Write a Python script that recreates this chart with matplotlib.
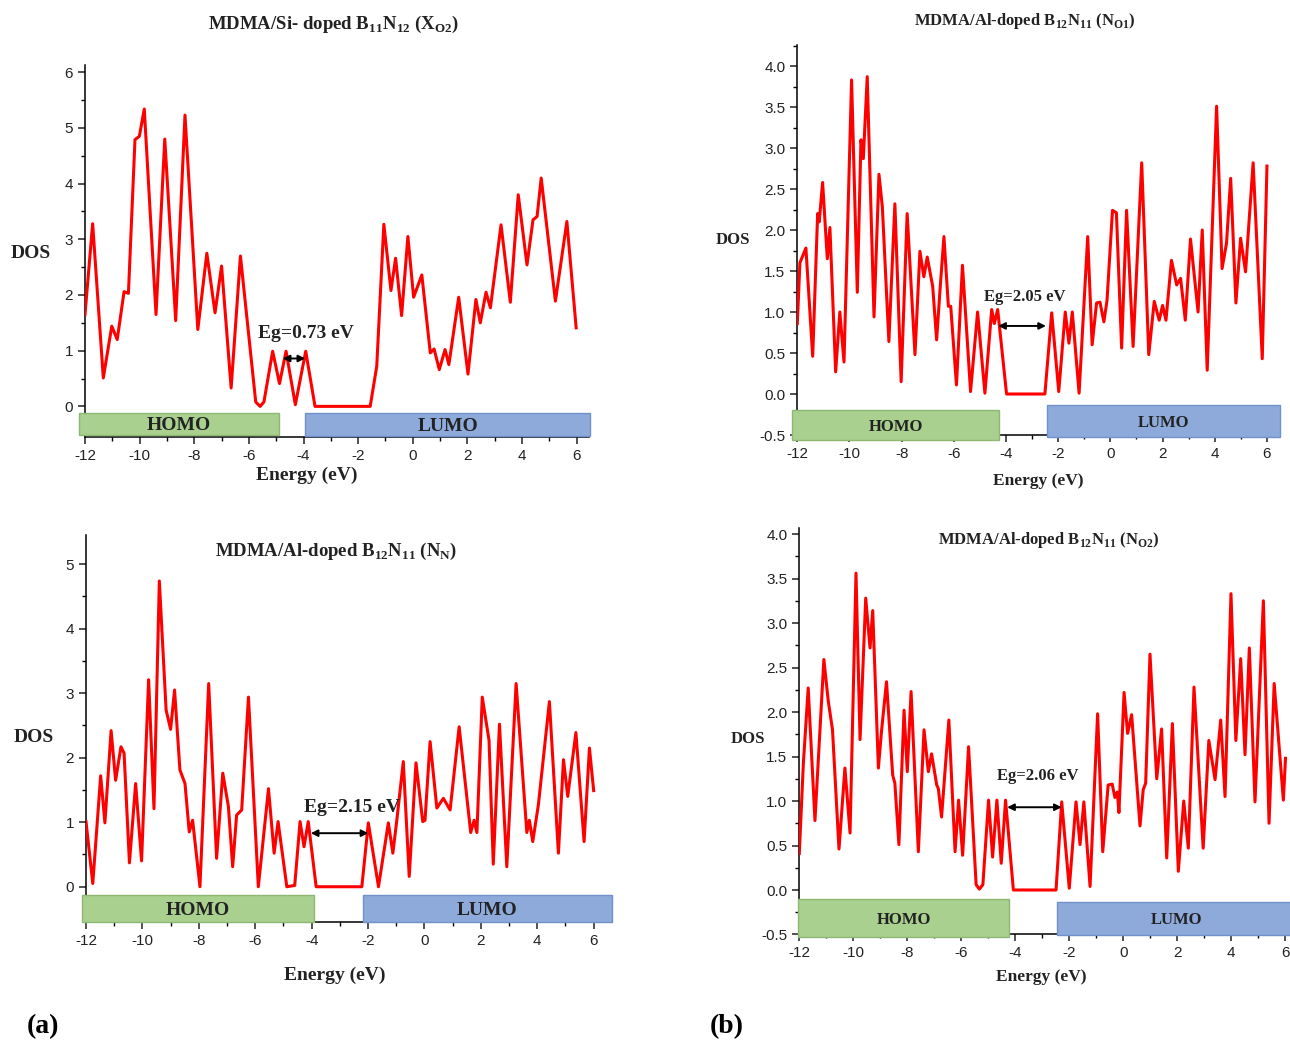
import matplotlib
matplotlib.use("Agg")
import matplotlib.pyplot as plt
from matplotlib.patches import Rectangle
from matplotlib.ticker import MultipleLocator, FormatStrFormatter

# ---- data (energy in eV, DOS) ----
e_xo2 = [-12.0, -11.72, -11.33, -11.02, -10.82, -10.57, -10.41, -10.17, -10.01, -9.83,
         -9.40, -9.08, -8.68, -8.34, -7.87, -7.54, -7.24, -7.00, -6.65, -6.31,
         -5.75, -5.59, -5.45, -5.13, -4.88, -4.64, -4.30, -3.92, -3.58, -1.56,
         -1.32, -1.06, -0.80, -0.63, -0.41, -0.18, 0.03, 0.33, 0.64, 0.78,
         0.97, 1.18, 1.32, 1.68, 2.02, 2.31, 2.47, 2.68, 2.84, 3.23,
         3.57, 3.86, 4.18, 4.40, 4.55, 4.70, 5.22, 5.64, 5.98]
dos_xo2 = [1.65, 3.28, 0.51, 1.44, 1.20, 2.06, 2.03, 4.79, 4.85, 5.34,
           1.65, 4.80, 1.54, 5.23, 1.38, 2.75, 1.68, 2.52, 0.33, 2.70,
           0.08, 0.0, 0.08, 0.99, 0.41, 0.99, 0.03, 0.99, 0.0, 0.0,
           0.72, 3.27, 2.08, 2.66, 1.63, 3.05, 1.96, 2.36, 0.96, 1.03,
           0.66, 1.02, 0.75, 1.96, 0.58, 1.92, 1.50, 2.05, 1.77, 3.26,
           1.87, 3.80, 2.54, 3.35, 3.41, 4.10, 1.89, 3.32, 1.41]

e_nn = [-12.0, -11.76, -11.48, -11.33, -11.11, -10.95, -10.76, -10.65, -10.46, -10.24,
        -10.03, -9.78, -9.59, -9.40, -9.16, -9.00, -8.86, -8.67, -8.49, -8.34,
        -8.22, -7.96, -7.65, -7.37, -7.15, -6.95, -6.80, -6.66, -6.48, -6.24,
        -5.89, -5.53, -5.33, -5.19, -4.88, -4.60, -4.41, -4.27, -4.12, -3.84,
        -2.22, -1.99, -1.63, -1.28, -1.12, -0.98, -0.75, -0.54, -0.30, -0.06,
        0.02, 0.20, 0.44, 0.67, 0.91, 1.23, 1.64, 1.76, 1.86, 2.05,
        2.29, 2.44, 2.66, 2.92, 3.25, 3.63, 3.72, 3.84, 4.04, 4.43,
        4.75, 4.93, 5.08, 5.37, 5.66, 5.85, 6.00]
dos_nn = [1.01, 0.05, 1.72, 0.99, 2.42, 1.65, 2.17, 2.07, 0.37, 1.60,
          0.40, 3.21, 1.21, 4.74, 2.74, 2.44, 3.05, 1.81, 1.60, 0.85,
          1.03, 0.0, 3.15, 0.44, 1.76, 1.24, 0.31, 1.11, 1.19, 2.94,
          0.0, 1.52, 0.52, 1.01, 0.0, 0.02, 1.01, 0.62, 1.01, 0.0,
          0.0, 0.99, 0.0, 0.99, 0.52, 1.03, 1.94, 0.16, 1.92, 1.01,
          1.03, 2.25, 1.22, 1.37, 1.19, 2.48, 0.84, 1.03, 0.84, 2.94,
          2.27, 0.35, 2.52, 0.31, 3.15, 0.84, 1.03, 0.70, 1.27, 2.87,
          0.52, 1.97, 1.40, 2.39, 0.70, 2.15, 1.49]

e_no1 = [-12.0, -11.90, -11.67, -11.41, -11.22, -11.16, -11.03, -10.85, -10.75, -10.53,
         -10.37, -10.21, -9.92, -9.70, -9.56, -9.47, -9.32, -9.06, -8.87, -8.74,
         -8.49, -8.26, -8.02, -7.79, -7.49, -7.30, -7.15, -7.02, -6.81, -6.66,
         -6.53, -6.38, -6.21, -6.12, -5.90, -5.67, -5.36, -5.09, -4.81, -4.55,
         -4.45, -4.32, -3.98, -2.51, -2.25, -1.98, -1.73, -1.59, -1.46, -1.20,
         -0.87, -0.70, -0.53, -0.40, -0.25, -0.13, 0.08, 0.23, 0.43, 0.62,
         0.87, 1.20, 1.47, 1.68, 1.87, 2.00, 2.13, 2.34, 2.54, 2.69,
         2.87, 3.07, 3.36, 3.52, 3.71, 4.07, 4.28, 4.45, 4.61, 4.81,
         4.99, 5.18, 5.47, 5.82, 6.00]
dos_no1 = [0.86, 1.60, 1.78, 0.46, 2.20, 2.10, 2.58, 1.65, 2.03, 0.27,
           1.00, 0.39, 3.83, 1.24, 3.10, 2.87, 3.87, 0.94, 2.68, 2.28,
           0.64, 2.32, 0.15, 2.20, 0.48, 1.74, 1.43, 1.67, 1.31, 0.66,
           1.27, 1.92, 1.07, 1.07, 0.11, 1.57, 0.03, 1.00, 0.01, 1.03,
           0.86, 1.03, 0.0, 0.0, 0.99, 0.03, 1.00, 0.62, 1.00, 0.01,
           1.92, 0.60, 1.11, 1.12, 0.88, 1.14, 2.24, 2.21, 0.56, 2.24,
           0.58, 2.82, 0.48, 1.13, 0.90, 1.08, 0.90, 1.63, 1.33, 1.41,
           0.90, 1.89, 1.00, 2.00, 0.29, 3.51, 1.53, 1.84, 2.63, 1.11,
           1.90, 1.49, 2.82, 0.43, 2.78]

e_no2 = [-12.0, -11.85, -11.67, -11.42, -11.09, -10.93, -10.77, -10.53, -10.31, -10.12,
         -9.90, -9.75, -9.54, -9.38, -9.28, -9.07, -8.95, -8.77, -8.54, -8.46,
         -8.31, -8.12, -8.00, -7.86, -7.59, -7.38, -7.22, -7.10, -6.91, -6.85,
         -6.73, -6.46, -6.23, -6.10, -5.95, -5.73, -5.45, -5.33, -5.20, -4.99,
         -4.84, -4.68, -4.52, -4.36, -4.07, -2.49, -2.28, -2.00, -1.75, -1.60,
         -1.46, -1.23, -0.95, -0.76, -0.56, -0.41, -0.31, -0.22, -0.16, 0.03,
         0.16, 0.31, 0.62, 0.74, 0.83, 0.99, 1.24, 1.42, 1.61, 1.82,
         2.04, 2.24, 2.41, 2.62, 2.96, 3.17, 3.40, 3.61, 3.77, 3.99,
         4.17, 4.35, 4.51, 4.67, 4.88, 5.19, 5.40, 5.59, 5.93, 6.01]
dos_no2 = [0.41, 1.42, 2.27, 0.78, 2.59, 2.13, 1.80, 0.46, 1.37, 0.64,
           3.56, 1.69, 3.28, 2.72, 3.14, 1.37, 1.80, 2.34, 1.29, 1.20,
           0.51, 2.02, 1.33, 2.23, 0.43, 1.80, 1.33, 1.53, 1.18, 1.14,
           0.82, 1.91, 0.43, 1.01, 0.39, 1.61, 0.06, 0.01, 0.06, 1.01,
           0.37, 1.01, 0.30, 1.01, 0.0, 0.0, 0.99, 0.02, 0.99, 0.51,
           0.99, 0.04, 1.98, 0.43, 1.18, 1.19, 1.04, 1.10, 0.87, 2.22,
           1.76, 1.97, 0.72, 1.13, 1.20, 2.65, 1.25, 1.81, 0.36, 1.87,
           0.21, 1.00, 0.47, 2.28, 0.47, 1.68, 1.24, 1.91, 1.05, 3.33,
           1.68, 2.60, 1.52, 2.72, 0.99, 3.25, 0.75, 2.32, 1.01, 1.48]

titles = [r"MDMA/Si- doped B$_{\mathbf{11}}$N$_{\mathbf{12}}$ (X$_{\mathbf{O2}}$)",
          r"MDMA/Al-doped B$_{\mathbf{12}}$N$_{\mathbf{11}}$ (N$_{\mathbf{N}}$)",
          r"MDMA/Al-doped B$_{\mathbf{12}}$N$_{\mathbf{11}}$ (N$_{\mathbf{O1}}$)",
          r"MDMA/Al-doped B$_{\mathbf{12}}$N$_{\mathbf{11}}$ (N$_{\mathbf{O2}}$)"]
gap_labels = ["Eg=0.73 eV", "Eg=2.15 eV", "Eg=2.05 eV", "Eg=2.06 eV"]

plt.rcParams['mathtext.fontset'] = 'custom'
plt.rcParams['mathtext.rm'] = 'Liberation Serif'
plt.rcParams['mathtext.bf'] = 'Liberation Serif:bold'
plt.rcParams['axes.unicode_minus'] = False

SERIF = 'Liberation Serif'
SANS = 'Liberation Sans'
W, H = 1290, 1042

fig = plt.figure(figsize=(12.9, 10.42), dpi=100)


def px(x, y):
    # pixel position in the picture -> figure fraction
    return x / W, 1 - y / H


def panel(rect, e, dos, xlim, ylim, ymaj, yfmt, homo, lumo, bary, gap, gap_y,
          fs_big):
    ax = fig.add_axes(rect)
    ax.plot(e, dos, color='#ff0000', lw=2.2, solid_joinstyle='round', zorder=3)
    ax.set_xlim(*xlim)
    ax.set_ylim(*ylim)
    for s in ['top', 'right']:
        ax.spines[s].set_visible(False)
    for s in ['left', 'bottom']:
        ax.spines[s].set_linewidth(1.1)
    ax.xaxis.set_major_locator(MultipleLocator(2))
    ax.xaxis.set_minor_locator(MultipleLocator(1))
    ax.yaxis.set_major_locator(MultipleLocator(ymaj))
    ax.yaxis.set_minor_locator(MultipleLocator(ymaj / 2))
    ax.yaxis.set_major_formatter(FormatStrFormatter(yfmt))
    ax.tick_params(which='major', direction='out', length=5, width=1.1,
                   labelsize=11, colors='#222222')
    ax.tick_params(which='minor', direction='out', length=3, width=1.0)
    for lab in ax.get_xticklabels() + ax.get_yticklabels():
        lab.set_fontfamily(SANS)
    # HOMO / LUMO bands
    for (x0, x1), (y0, y1), name, fc, ec in [
            (homo, bary[0], 'HOMO', '#a9d08e', '#8cb874'),
            (lumo, bary[1], 'LUMO', '#8eaadb', '#7091c9')]:
        ax.add_patch(Rectangle((x0, y0), x1 - x0, y1 - y0, facecolor=fc,
                               edgecolor=ec, lw=1.0, clip_on=False, zorder=5))
        ax.text((x0 + x1) / 2, (y0 + y1) / 2, name, ha='center',
                va='center_baseline', family=SERIF, weight='bold',
                fontsize=fs_big, color='#222222', zorder=6, clip_on=False)
    ax.annotate('', xy=(gap[0], gap_y), xytext=(gap[1], gap_y),
                arrowprops=dict(arrowstyle='<|-|>', color='black', lw=1.4,
                                mutation_scale=10, shrinkA=0, shrinkB=0))
    return ax


ax1 = panel([0.06589, 0.58061, 0.39070, 0.35701], e_xo2, dos_xo2,
            (-12, 6.45), (-0.55, 6.13), 1, '%d',
            (-12.22, -4.89), (-3.94, 6.5), ((-0.52, -0.11), (-0.54, -0.12)),
            (-4.76, -3.94), 0.86, 14)
ax2 = panel([0.06667, 0.11497, 0.40775, 0.37140], e_nn, dos_nn,
            (-12, 6.65), (-0.55, 5.45), 1, '%d',
            (-12.14, -3.91), (-2.18, 6.65), ((-0.55, -0.13), (-0.55, -0.13)),
            (-4.03, -1.99), 0.83, 14)
ax3 = panel([0.61806, 0.58253, 0.37419, 0.37457], e_no1, dos_no1,
            (-12, 6.5), (-0.5, 4.26), 0.5, '%.1f',
            (-12.2, -4.26), (-2.42, 6.5), ((-0.56, -0.20), (-0.52, -0.13)),
            (-4.30, -2.47), 0.83, 12)
ax4 = panel([0.61961, 0.10317, 0.37984, 0.39030], e_no2, dos_no2,
            (-12, 6.15), (-0.5, 4.07), 0.5, '%.1f',
            (-12.05, -4.22), (-2.45, 6.4), ((-0.53, -0.10), (-0.51, -0.13)),
            (-4.30, -2.28), 0.93, 12)

# titles, axis labels, gap labels (placed by picture pixels)
for t, (x, y), fs in zip(titles, [(334, 24), (336, 551), (1025, 21), (1049, 540)],
                         [13.5, 13.5, 12, 12]):
    fig.text(*px(x, y), t, ha='center', va='center', family=SERIF,
             weight='bold', fontsize=fs, color='#222222')
for (x, y), fs in zip([(31, 253), (34, 738), (733, 240), (748, 739)], [14, 14, 12, 12]):
    fig.text(*px(x, y), 'DOS', ha='center', va='center', family=SERIF,
             weight='bold', fontsize=fs, color='#222222')
for (x, y), fs in zip([(307, 475), (335, 975), (1038, 481), (1041, 977)], [14, 14, 12.5, 12.5]):
    fig.text(*px(x, y), 'Energy (eV)', ha='center', va='center', family=SERIF,
             weight='bold', fontsize=fs, color='#222222')
for t, (x, y), fs in zip(gap_labels, [(306, 334), (352, 808), (1025, 297), (1038, 776)],
                         [14, 14, 12, 12]):
    fig.text(*px(x, y), t, ha='center', va='center', family=SERIF,
             weight='bold', fontsize=fs, color='#222222')
fig.text(*px(43, 1027), '(a)', ha='center', va='center', family=SERIF,
         weight='bold', fontsize=20)
fig.text(*px(727, 1027), '(b)', ha='center', va='center', family=SERIF,
         weight='bold', fontsize=20)

fig.savefig('out.png', dpi=100)
